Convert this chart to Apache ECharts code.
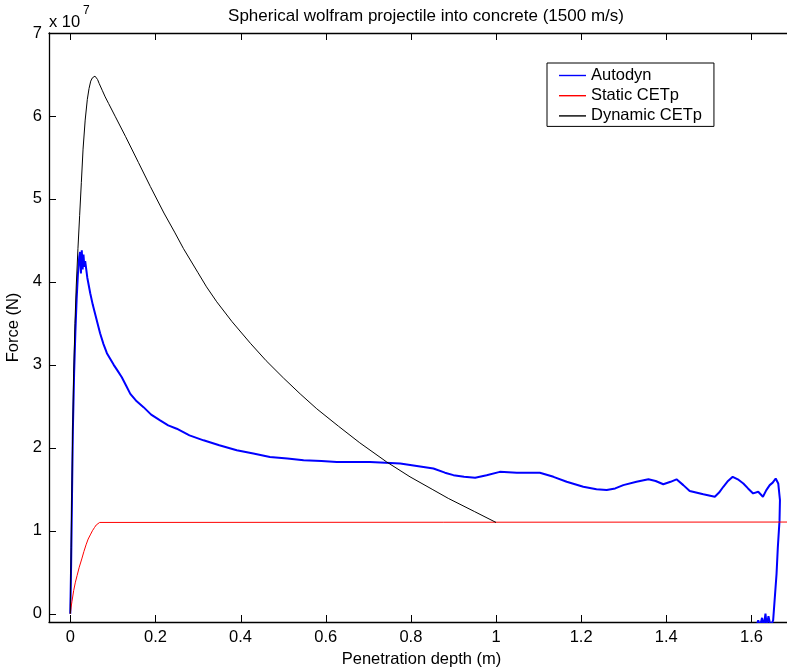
<!DOCTYPE html>
<html>
<head>
<meta charset="utf-8">
<script src="https://cdn.jsdelivr.net/npm/echarts@6/dist/echarts.min.js"></script>
<style>
html,body{margin:0;padding:0;background:#fff;}
#chart{width:787px;height:669px;}
</style>
</head>
<body>
<div id="chart"></div>
<script>
// ---- data (force in units of 1e7 N, depth in m) ----
const autoX = [0,0.002,0.004,0.006,0.009,0.012,0.015,0.018,0.021,0.023,0.025,0.027,0.029,0.031,0.033,0.035,0.04,0.047,0.053,0.059,0.065,0.07,0.078,0.086,0.094,0.102,0.111,0.121,0.131,0.141,0.156,0.172,0.19,0.211,0.23,0.25,0.28,0.313,0.35,0.391,0.43,0.469,0.51,0.548,0.59,0.626,0.665,0.704,0.74,0.775,0.814,0.853,0.88,0.9,0.925,0.951,0.978,1.009,1.049,1.075,1.103,1.135,1.166,1.205,1.236,1.26,1.28,1.299,1.33,1.358,1.375,1.393,1.41,1.424,1.44,1.455,1.487,1.514,1.524,1.534,1.545,1.556,1.568,1.581,1.592,1.604,1.616,1.627,1.635,1.643,1.65,1.657,1.663,1.667,1.666,1.662,1.659,1.655,1.651,1.645,1.64,1.636,1.633,1.629,1.625,1.62,1.616,1.612];
const autoY = [0,0.6,1.4,2.2,2.9,3.4,3.8,4.1,4.3,4.36,4.1,4.38,4.15,4.33,4.18,4.25,4.05,3.86,3.72,3.6,3.48,3.38,3.25,3.14,3.07,3.0,2.93,2.85,2.75,2.65,2.56,2.49,2.4,2.33,2.27,2.23,2.15,2.09,2.03,1.97,1.93,1.89,1.87,1.85,1.84,1.83,1.83,1.83,1.82,1.81,1.78,1.75,1.7,1.67,1.65,1.64,1.67,1.71,1.70,1.70,1.70,1.65,1.59,1.53,1.50,1.49,1.51,1.55,1.59,1.62,1.60,1.56,1.59,1.62,1.55,1.48,1.44,1.41,1.46,1.53,1.6,1.65,1.62,1.57,1.51,1.45,1.47,1.41,1.49,1.55,1.58,1.63,1.57,1.37,1.125,0.8,0.48,0.2,-0.08,-0.15,-0.03,-0.15,0.0,-0.15,-0.05,-0.15,-0.08,-0.15];

const staticX = [0,0.002,0.004,0.008,0.012,0.016,0.021,0.027,0.032,0.037,0.042,0.047,0.052,0.057,0.061,0.065,0.069,0.072,1.7];
const staticY = [0,0.08,0.15,0.28,0.38,0.46,0.56,0.66,0.75,0.83,0.9,0.95,1.0,1.04,1.07,1.09,1.1,1.105,1.105];

const dynX = [0,0.002,0.004,0.006,0.008,0.011,0.014,0.018,0.022,0.026,0.03,0.035,0.04,0.044,0.048,0.052,0.055,0.058,0.061,0.064,0.068,0.075,0.082,0.09,0.106,0.13,0.16,0.188,0.22,0.245,0.266,0.3,0.32,0.344,0.38,0.423,0.46,0.501,0.54,0.579,0.63,0.68,0.743,0.798,0.85,0.888,0.95,1.0];
const dynY = [0,0.8,1.6,2.3,2.9,3.5,3.95,4.4,4.8,5.2,5.6,5.95,6.2,6.33,6.42,6.46,6.48,6.48,6.47,6.44,6.39,6.31,6.23,6.15,5.99,5.75,5.44,5.15,4.83,4.6,4.4,4.11,3.94,3.76,3.52,3.26,3.05,2.84,2.65,2.47,2.26,2.06,1.83,1.65,1.5,1.39,1.23,1.1];

const seriesNames = ['Autodyn','Static CETp','Dynamic CETp'];
const xTicks = [0,0.2,0.4,0.6,0.8,1,1.2,1.4,1.6];
const yTicks = [0,1,2,3,4,5,6,7];
const xMin = -0.05, xMax = 1.7;
const yMin = -0.1, yMax = 7;
const titleText = 'Spherical wolfram projectile into concrete (1500 m/s)';
const xName = 'Penetration depth (m)';
const yName = 'Force (N)';

// ---- styles ----
const seriesColors = ['#0000ff','#ff0000','#000000'];
const seriesWidths = [2,1,1];
const FONT = "'Liberation Sans', Arial, Helvetica, sans-serif";
const FS = 16.5;
const TICK = 7;
const zip = (xs, ys) => xs.map((x, i) => [x, ys[i]]);
const axisLineCfg = {show:true, onZero:false, lineStyle:{color:'#000', width:1.3}};
const labelStyle = {color:'#000', fontSize:FS, fontFamily:FONT};

const chart = echarts.init(document.getElementById('chart'), null, {renderer:'canvas'});
chart.setOption({
  animation:false,
  backgroundColor:'#fff',
  title:{
    text:titleText, left:421, top:3, textAlign:'center',
    textStyle:{fontSize:17, fontWeight:'normal', color:'#000', fontFamily:FONT}
  },
  grid:{left:49, top:33, right:-7, bottom:47, outerBoundsMode:'none', containLabel:false},
  legend:{
    orient:'vertical', left:547, top:63,
    padding:[4,12,2,12], itemGap:3.2, itemWidth:27, itemHeight:1.4,
    icon:'rect',
    backgroundColor:'#fff', borderColor:'#000', borderWidth:1, borderRadius:0,
    textStyle:{fontSize:FS, color:'#000', fontFamily:FONT, lineHeight:16},
    data:seriesNames.map((n, i) => ({name:n, itemStyle:{color:seriesColors[i], borderWidth:0}}))
  },
  xAxis:[{
    type:'value', min:xMin, max:xMax, position:'bottom',
    axisLine:axisLineCfg, axisTick:{show:false},
    axisLabel:Object.assign({customValues:xTicks, margin:7,
      formatter:v => String(parseFloat(Number(v).toFixed(2)))}, labelStyle),
    splitLine:{show:false},
    name:xName, nameLocation:'middle', nameGap:29, nameTextStyle:labelStyle
  },{
    type:'value', min:xMin, max:xMax, position:'top',
    axisLine:axisLineCfg, axisTick:{show:false},
    axisLabel:{show:false}, splitLine:{show:false}
  }],
  yAxis:[{
    type:'value', min:yMin, max:yMax, position:'left',
    axisLine:axisLineCfg, axisTick:{show:false},
    axisLabel:Object.assign({customValues:yTicks, margin:7}, labelStyle),
    splitLine:{show:false},
    name:yName, nameLocation:'middle', nameGap:21, nameRotate:90, nameTextStyle:labelStyle
  }],
  series:[
    {name:seriesNames[0], type:'line', data:zip(autoX, autoY), symbol:'none', clip:true,
     lineStyle:{color:seriesColors[0], width:seriesWidths[0]}, itemStyle:{color:seriesColors[0]}},
    {name:seriesNames[1], type:'line', data:zip(staticX, staticY), symbol:'none', clip:true,
     lineStyle:{color:seriesColors[1], width:seriesWidths[1]}, itemStyle:{color:seriesColors[1]}},
    {name:seriesNames[2], type:'line', data:zip(dynX, dynY), symbol:'none', clip:true,
     lineStyle:{color:seriesColors[2], width:seriesWidths[2]}, itemStyle:{color:seriesColors[2]}}
  ]
});

// inward MATLAB-style tick marks, placed through the chart's own axis scales
const crisp = v => Math.round(v) + 0.5;
const tickEls = [];
xTicks.forEach(v => {
  const pb = chart.convertToPixel({xAxisIndex:0, yAxisIndex:0}, [v, yMin]);
  const pt = chart.convertToPixel({xAxisIndex:0, yAxisIndex:0}, [v, yMax]);
  const x = crisp(pb[0]);
  tickEls.push({type:'line', silent:true, z:50, shape:{x1:x, y1:pb[1], x2:x, y2:pb[1] - TICK}, style:{stroke:'#000', lineWidth:1}});
  tickEls.push({type:'line', silent:true, z:50, shape:{x1:x, y1:pt[1], x2:x, y2:pt[1] + TICK}, style:{stroke:'#000', lineWidth:1}});
});
yTicks.forEach(v => {
  const p = chart.convertToPixel({xAxisIndex:0, yAxisIndex:0}, [xMin, v]);
  const y = crisp(p[1]);
  tickEls.push({type:'line', silent:true, z:50, shape:{x1:p[0], y1:y, x2:p[0] + TICK, y2:y}, style:{stroke:'#000', lineWidth:1}});
});
tickEls.push({type:'text', x:49, y:22, style:{text:'x 10', font:FS+'px '+FONT, fill:'#000', textVerticalAlign:'middle'}});
tickEls.push({type:'text', x:83, y:11, style:{text:'7', font:'12px '+FONT, fill:'#000', textVerticalAlign:'middle'}});
chart.setOption({graphic:tickEls});
</script>
</body>
</html>
